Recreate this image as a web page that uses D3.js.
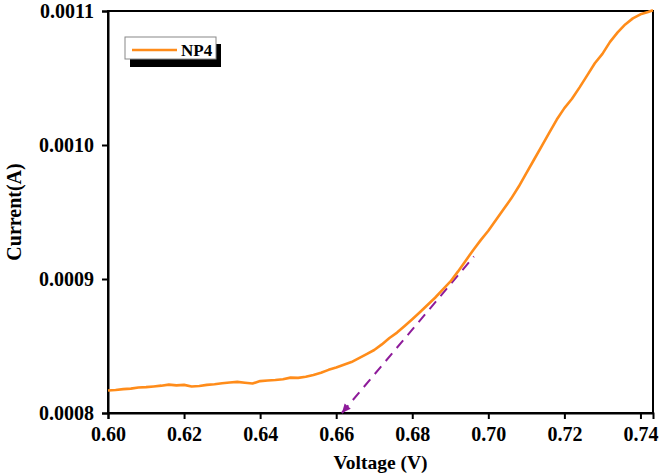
<!DOCTYPE html>
<html><head><meta charset="utf-8">
<script src="https://cdn.jsdelivr.net/npm/d3@7"></script>
<style>body{margin:0;background:#fff}svg{display:block}</style>
</head><body>
<script>
const voltage = [0.600,0.602,0.604,0.606,0.608,0.610,0.612,0.614,0.616,0.618,0.620,0.622,0.624,0.626,0.628,0.630,0.632,0.634,0.636,0.638,0.640,0.642,0.644,0.646,0.648,0.650,0.652,0.654,0.656,0.658,0.660,0.662,0.664,0.666,0.668,0.670,0.672,0.674,0.676,0.678,0.680,0.682,0.684,0.686,0.688,0.690,0.692,0.694,0.696,0.698,0.700,0.702,0.704,0.706,0.708,0.710,0.712,0.714,0.716,0.718,0.720,0.722,0.724,0.726,0.728,0.730,0.732,0.734,0.736,0.738,0.740,0.742,0.7433];
const current = [0.0008168,0.0008172,0.0008178,0.0008182,0.0008190,0.0008193,0.0008198,0.0008204,0.0008212,0.0008206,0.0008210,0.0008198,0.0008202,0.0008210,0.0008214,0.0008222,0.0008228,0.0008232,0.0008226,0.0008220,0.0008238,0.0008242,0.0008246,0.0008252,0.0008264,0.0008262,0.0008270,0.0008284,0.0008300,0.0008322,0.0008340,0.0008360,0.0008380,0.0008410,0.0008440,0.0008470,0.0008512,0.0008560,0.0008600,0.0008650,0.0008700,0.0008752,0.0008806,0.0008860,0.0008920,0.0008980,0.0009055,0.0009135,0.0009215,0.0009290,0.0009360,0.0009440,0.0009520,0.0009600,0.0009690,0.0009790,0.0009890,0.0009990,0.0010090,0.0010190,0.0010275,0.0010345,0.0010430,0.0010520,0.0010610,0.0010680,0.0010770,0.0010840,0.0010900,0.0010945,0.0010975,0.0010992,0.0011005];
const xTicks = [0.60,0.62,0.64,0.66,0.68,0.70,0.72,0.74];
const yTicks = [0.0008,0.0009,0.0010,0.0011];
const tangentV = [0.6615,0.6962];
const tangentI = [0.0008,0.0009168];
const seriesName = "NP4";

const W = 664, H = 475;
const m = {left:108, right:11, top:11, bottom:62};
const svg = d3.select("body").append("svg").attr("width",W).attr("height",H);
const x = d3.scaleLinear().domain([0.6,0.7433]).range([m.left, W-m.right]);
const y = d3.scaleLinear().domain([0.0008,0.0011]).range([H-m.bottom, m.top]);
const font = "'Liberation Serif','Times New Roman',serif";

// frame
svg.append("rect").attr("x",x.range()[0]).attr("y",y.range()[1])
  .attr("width",x.range()[1]-x.range()[0]).attr("height",y.range()[0]-y.range()[1])
  .attr("fill","none").attr("stroke","#000").attr("stroke-width",2);

// axes
const xAxis = svg.append("g").attr("transform",`translate(0,${y.range()[0]})`)
  .call(d3.axisBottom(x).tickValues(xTicks).tickFormat(d3.format(".2f")).tickSizeOuter(0).tickSize(6).tickPadding(8));
const yAxis = svg.append("g").attr("transform",`translate(${x.range()[0]},0)`)
  .call(d3.axisLeft(y).tickValues(yTicks).tickFormat(d3.format(".4f")).tickSizeOuter(0).tickSize(6).tickPadding(8));
[xAxis,yAxis].forEach(g=>{
  g.select(".domain").attr("stroke","#000").attr("stroke-width",2);
  g.selectAll(".tick line").attr("stroke","#000").attr("stroke-width",2);
  g.selectAll(".tick text").attr("font-family",font).attr("font-weight","bold").attr("font-size",20).attr("fill","#000");
});

// tangent dashed line
const pts = tangentV.map((v,i)=>[x(v),y(tangentI[i])]);
svg.append("line").attr("x1",pts[0][0]).attr("y1",pts[0][1]).attr("x2",pts[1][0]).attr("y2",pts[1][1])
  .attr("stroke","#8e1b9a").attr("stroke-width",2).attr("stroke-dasharray","10,7");
// arrow head at bottom
const ang = Math.atan2(pts[0][1]-pts[1][1], pts[0][0]-pts[1][0]);
const ah = 9, aw = 4;
const tip = pts[0];
const bx = tip[0]-ah*Math.cos(ang), by = tip[1]-ah*Math.sin(ang);
svg.append("path").attr("d",`M${tip[0]},${tip[1]}L${bx+aw*Math.sin(ang)},${by-aw*Math.cos(ang)}L${bx-aw*Math.sin(ang)},${by+aw*Math.cos(ang)}Z`)
  .attr("fill","#8e1b9a");

// curve
const data = voltage.map((v,i)=>({v, c:current[i]}));
svg.append("path").datum(data)
  .attr("d", d3.line().x(d=>x(d.v)).y(d=>y(d.c)))
  .attr("fill","none").attr("stroke","#ff8c1a").attr("stroke-width",2.6).attr("stroke-linejoin","round");

// titles
svg.append("text").attr("x",(x.range()[0]+x.range()[1])/2).attr("y",469).attr("text-anchor","middle")
  .attr("font-family",font).attr("font-weight","bold").attr("font-size",19.5).text("Voltage (V)");
svg.append("text").attr("transform",`translate(21,${(y.range()[0]+y.range()[1])/2}) rotate(-90)`).attr("text-anchor","middle")
  .attr("font-family",font).attr("font-weight","bold").attr("font-size",20).text("Current(A)");

// legend
const lg = svg.append("g");
lg.append("rect").attr("x",130).attr("y",44).attr("width",91).attr("height",23).attr("fill","#000");
lg.append("rect").attr("x",125).attr("y",37).attr("width",91).attr("height",22).attr("fill","#fff").attr("stroke","#888").attr("stroke-width",1);
lg.append("line").attr("x1",132).attr("x2",177).attr("y1",50).attr("y2",50).attr("stroke","#ff8c1a").attr("stroke-width",2.6);
lg.append("text").attr("x",181).attr("y",56).attr("font-family",font).attr("font-weight","bold").attr("font-size",17).text(seriesName);
</script>
</body></html>
